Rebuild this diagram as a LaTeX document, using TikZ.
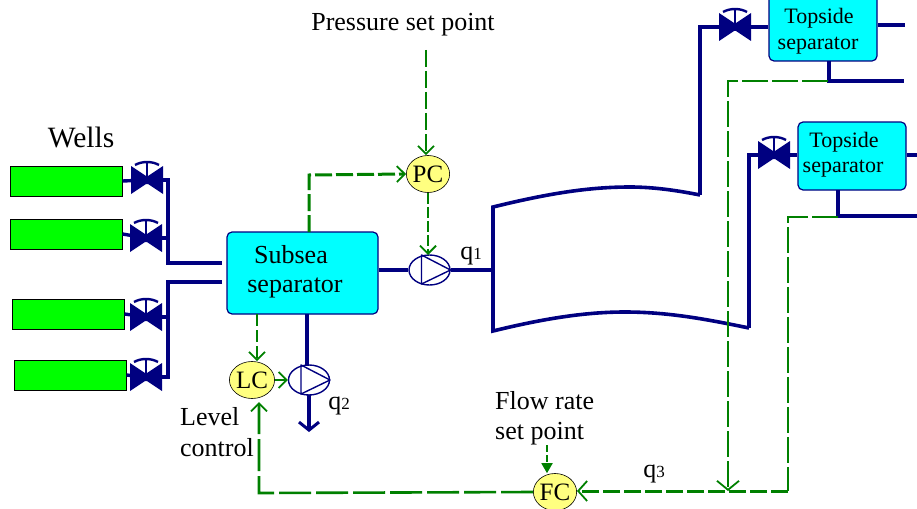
\documentclass[tikz,border=0pt]{standalone}
\usepackage{fontspec}
\setmainfont{Liberation Serif}
\usetikzlibrary{arrows.meta,shapes.geometric}
\definecolor{pipeblue}{RGB}{0,0,128}
\definecolor{ctrlgreen}{RGB}{0,128,0}
\definecolor{wellgreen}{RGB}{0,255,0}
\definecolor{vesselcyan}{RGB}{0,255,255}
\definecolor{ctrlyellow}{RGB}{255,255,128}
\tikzset{
  x=1pt,y=-1pt,
  pipe/.style={draw=pipeblue,line width=3.4pt},
  wellbox/.style={draw=black,line width=1pt,fill=wellgreen,minimum width=112pt,minimum height=30pt,inner sep=0pt},
  vessel/.style={draw=pipeblue,line width=1.2pt,fill=vesselcyan,rounded corners=5pt,inner sep=0pt},
  ctrlnode/.style={ellipse,draw=black,line width=.6pt,fill=ctrlyellow,minimum width=42pt,minimum height=37pt,inner sep=0pt,font=\fontsize{25}{27}\selectfont},
  pumpbody/.style={ellipse,draw=pipeblue,line width=1.4pt,fill=white,minimum width=41pt,minimum height=30pt,inner sep=0pt},
  sig/.style={draw=ctrlgreen,line width=1.9pt,dash pattern=on 17pt off 4pt},
  sigbold/.style={draw=ctrlgreen,line width=3pt,dash pattern=on 17pt off 4pt},
  barb/.style={-{Straight Barb[length=8pt,width=16pt,line width=1.8pt]}},
  label/.style={inner sep=0pt,font=\fontsize{26}{29}\selectfont},
  pics/valve/.style={code={
    \fill[pipeblue] (-16,-14) -- (-1,-4) -- (1,-4) -- (16,-14) -- (16,14) -- (1,4) -- (-1,4) -- (-16,14) -- cycle;
    \draw[pipeblue,line width=1.6pt] (0,0) -- (0,-17);
    \draw[pipeblue,line width=2.4pt] (-12,-15) .. controls (-5,-19) and (5,-19) .. (12,-15);
  }},
  pics/pumptri/.style={code={
    \draw[pipeblue,line width=1.4pt,line join=round] (-8,-15) -- (21,0) -- (-8,14) -- cycle;
  }}
}
\newcommand{\subtxt}[2]{#1{\fontsize{17}{19}\selectfont #2}}
\begin{document}
\begin{tikzpicture}
\clip (0,0) rectangle (917,508);
\useasboundingbox (0,0) rectangle (917,508);
% wells
\node[wellbox] (w1) at (66,181) {};
\node[wellbox] (w2) at (66,234) {};
\node[wellbox] (w3) at (68,314) {};
\node[wellbox] (w4) at (70,375) {};
% coordinates
\coordinate (v1) at (147,180);
\coordinate (v2) at (146,238);
\coordinate (v3) at (146,317);
\coordinate (v4) at (146,377);
\coordinate (v5) at (735,27);
\coordinate (v6) at (774,155);
\coordinate (h1) at (168,180);
\coordinate (h2) at (168,238);
\coordinate (h3) at (168,317);
\coordinate (h4) at (168,377);
\coordinate (j1) at (168,263);
\coordinate (j2) at (168,282);
\coordinate (e1) at (222,263);
\coordinate (e2) at (222,282);
% vessels
\node[vessel,minimum width=151pt,minimum height=82pt] (sub) at (302.5,273) {};
\node[vessel,minimum width=108pt,minimum height=66pt] (top1) at (823,28) {};
\node[vessel,minimum width=108pt,minimum height=68pt] (top2) at (852,156) {};
% pumps
\node[pumpbody] (p1) at (429.5,270) {};
\node[pumpbody] (p2) at (309,380) {};
% riser
\coordinate (rtl) at (493,207);
\coordinate (rbl) at (493,331);
\coordinate (rtr) at (700,195);
\coordinate (rbr) at (749,328);
\coordinate (q1end) at (493,270);
\coordinate (c5) at (700,27);
\coordinate (c6) at (749,155);
% pipes
\draw[pipe] (w1.east) -- (v1);
\draw[pipe] (w2.east) -- (v2);
\draw[pipe] (w3.east) -- (v3);
\draw[pipe] (w4.east) -- (v4);
\draw[pipe,line width=4pt] (v1) -- (h1) -- (j1) -- (e1);
\draw[pipe] (v2) -- (h2);
\draw[pipe] (e2) -- (j2) -- (h4) -- (v4);
\draw[pipe] (v3) -- (h3);
\draw[pipe] (sub.east|-p1) -- (p1.west);
\draw[pipe] (p1.east) -- (q1end);
\coordinate (sb) at (307,314);
\coordinate (pt) at (307,366);
\draw[pipe] (sb) -- (pt);
\coordinate (dnA) at (309,395);
\coordinate (dnB) at (309,432);
\draw[draw=pipeblue,line width=4pt,-{Straight Barb[length=8pt,width=20pt,line width=3pt]}] (dnA) -- (dnB);
\draw[draw=pipeblue,line width=3.6pt,line join=miter]
  (rtr) .. controls (680,191) and (655,187) .. (630,187)
        .. controls (590,187) and (550,193) .. (rtl) -- (rbl)
        .. controls (550,317) and (590,312) .. (625,312)
        .. controls (670,312) and (710,320) .. (rbr);
\draw[pipe] (rtr) -- (c5) -- (v5) -- (top1.west|-v5);
\draw[pipe] (rbr) -- (c6) -- (v6) -- (top2.west|-v6);
% topside outlets
\coordinate (o1a) at (878,25);
\coordinate (o1b) at (905,25);
\coordinate (o2b) at (917,155);
\coordinate (t1b) at (829,61);
\coordinate (t1c) at (829,81);
\coordinate (t1d) at (904,81);
\coordinate (t2b) at (838,190);
\coordinate (t2c) at (838,216);
\coordinate (t2d) at (917,216);
\draw[pipe] (o1a) -- (o1b);
\draw[pipe] (top2.east|-o2b) -- (o2b);
\draw[pipe] (t1b) -- (t1c) -- (t1d);
\draw[pipe] (t2b) -- (t2c) -- (t2d);
% valves
\foreach \v in {v1,v2,v3,v4,v5,v6}{\pic at (\v) {valve};}
% pump triangles
\pic at (p1) {pumptri};
\pic at (p2) {pumptri};
% controllers
\node[ctrlnode] (pc) at (428,174) {PC};
\node[ctrlnode] (lc) at (252,380) {LC};
\node[ctrlnode] (fc) at (555,492) {FC};
% signal lines
\coordinate (st) at (309,232);
\coordinate (sc) at (309,175);
\draw[sigbold,barb] (st) -- (sc) -- (pc.west);
\coordinate (ps) at (426,50);
\draw[sig,barb] (ps) -- (pc.north-|ps);
\coordinate (pm) at (428,255);
\draw[sig,barb,dash pattern=on 11pt off 3pt] (pc.south) -- (pm);
\coordinate (sl) at (257,314);
\draw[sigbold,dash pattern=on 12pt off 4pt,line width=2.6pt,barb] (sl) -- (lc.north-|sl);
\draw[draw=ctrlgreen,line width=2.4pt,barb] (lc.east) -- (p2.west);
\coordinate (fl) at (259,493);
\coordinate (lb) at (259,402);
\draw[sigbold,line width=2.6pt,dash pattern=on 32pt off 5pt,barb] (fc.west) -- (fl) -- (lb);
\coordinate (fs) at (547,445);
\draw[draw=ctrlgreen,line width=1.8pt,dash pattern=on 7pt off 3pt,-{Triangle[length=10pt,width=11pt]}] (fs) -- (fc.north-|fs);
\coordinate (g1) at (838,217);
\coordinate (g2) at (788,217);
\coordinate (g3) at (788,491);
\draw[sig,dash pattern=on 26pt off 4pt] (g1) -- (g2) -- (g3);
\draw[sigbold,-{Straight Barb[length=9pt,width=20pt,line width=1.8pt]}] (g3) -- (fc.east|-g3);
\coordinate (g4) at (828,81);
\coordinate (g5) at (728,81);
\coordinate (g6) at (728,491);
\draw[sig,dash pattern=on 26pt off 4pt,-{Straight Barb[length=9pt,width=22pt,line width=1.8pt]}] (g4) -- (g5) -- (g6);
% text
\node[label] (tpsp) at (403,25) {Pressure set point};
\node[label,font=\fontsize{29.5}{32}\selectfont] (twells) at (81,137) {Wells};
\node[label] (tsub1) at (291,255) {Subsea};
\node[label] (tsub2) at (295,288) {separator};
\node[label,font=\fontsize{22}{24}\selectfont] (tt1a) at (819,18) {Topside};
\node[label,font=\fontsize{22}{24}\selectfont] (tt1b) at (818,46) {separator};
\node[label,font=\fontsize{22}{24}\selectfont] (tt2a) at (844,142) {Topside};
\node[label,font=\fontsize{22}{24}\selectfont] (tt2b) at (843,169) {separator};
\node[label,font=\fontsize{26}{28}\selectfont] (q1) at (471,256) {\subtxt{q}{1}};
\node[label,font=\fontsize{26}{28}\selectfont] (q2) at (339,406) {\subtxt{q}{2}};
\node[label,font=\fontsize{26}{28}\selectfont] (q3) at (654,474) {\subtxt{q}{3}};
\node[label,anchor=west] (tlev1) at (180,417) {Level};
\node[label,anchor=west] (tlev2) at (180,448) {control};
\node[label,anchor=west] (tfl1) at (495,401) {Flow rate};
\node[label,anchor=west] (tfl2) at (495,434) {set point};
\end{tikzpicture}
\end{document}
